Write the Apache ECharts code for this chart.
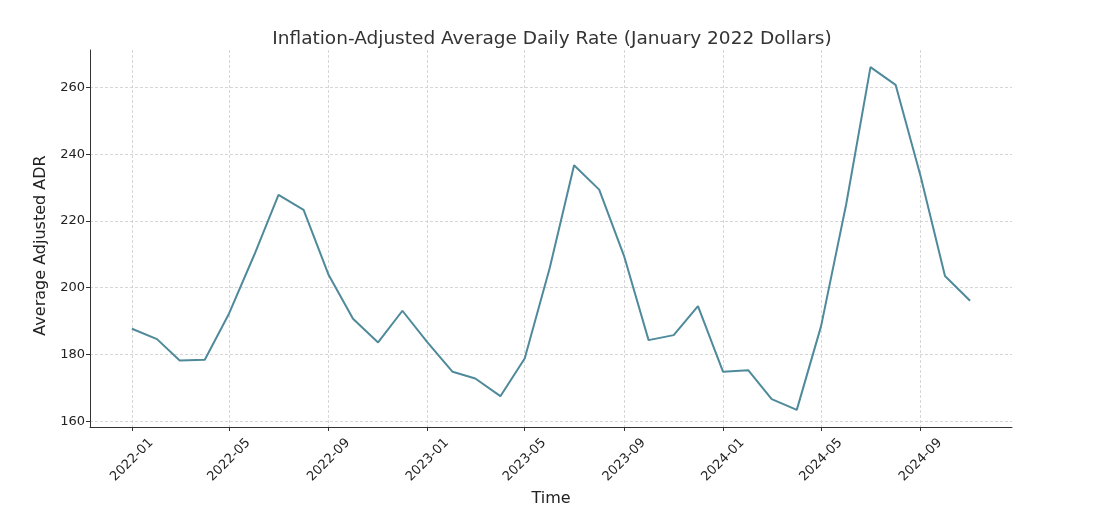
<!DOCTYPE html>
<html>
<head>
<meta charset="utf-8">
<script src="https://cdn.jsdelivr.net/npm/echarts@6/dist/echarts.min.js"></script>
<style>html,body{margin:0;padding:0;background:#fff}#c{width:1120px;height:516px}</style>
</head>
<body>
<div id="c"></div>
<script>
const months = ['2022-01','2022-02','2022-03','2022-04','2022-05','2022-06','2022-07','2022-08','2022-09','2022-10','2022-11','2022-12',
  '2023-01','2023-02','2023-03','2023-04','2023-05','2023-06','2023-07','2023-08','2023-09','2023-10','2023-11','2023-12',
  '2024-01','2024-02','2024-03','2024-04','2024-05','2024-06','2024-07','2024-08','2024-09','2024-10','2024-11'];
const adr = [187.7,184.6,178.2,178.4,192.3,209.8,227.8,223.3,203.8,190.7,183.6,193.1,
  183.6,174.8,172.8,167.5,178.8,206.0,236.7,229.4,209.3,184.3,185.8,194.5,
  174.8,175.3,166.6,163.4,188.5,225.0,266.1,260.8,233.3,203.5,196.1];
const xTickLabels = ['2022-01','2022-05','2022-09','2023-01','2023-05','2023-09','2024-01','2024-05','2024-09'];
const yTicks = [160,180,200,220,240,260];

function ts(s){ const p = s.split('-'); return Date.UTC(+p[0], +p[1]-1, 1) / 86400000; }
const data = months.map((m,i)=>[ts(m), adr[i]]);
const first = ts(months[0]), last = ts(months[months.length-1]);
const xPad = (last-first)*0.05;
const ymin = Math.min(...adr), ymax = Math.max(...adr), yPad = (ymax-ymin)*0.05;
function fmt(v){ const d = new Date(Math.round(v)*86400000); const m = d.getUTCMonth()+1; return d.getUTCFullYear()+'-'+(m<10?'0':'')+m; }

const FONT = 'DejaVu Sans';
const chart = echarts.init(document.getElementById('c'), null, {renderer:'canvas'});
chart.setOption({
  animation:false,
  backgroundColor:'#fff',
  title:{text:'Inflation-Adjusted Average Daily Rate (January 2022 Dollars)', left:547, top:25, textAlign:'center',
    textStyle:{fontFamily:FONT, fontSize:18.5, fontWeight:'normal', color:'#333'}},
  grid:{left:90, right:108, top:50, bottom:89, containLabel:false},
  xAxis:{type:'value', min:first-xPad, max:last+xPad,
    name:'Time', nameLocation:'middle', nameGap:55, nameTextStyle:{fontFamily:FONT, fontSize:16, color:'#222'},
    axisLine:{show:true, onZero:false, lineStyle:{color:'#333', width:1}},
    axisTick:{show:true, length:4, lineStyle:{color:'#333'}, customValues:xTickLabels.map(ts)},
    axisLabel:{customValues:xTickLabels.map(ts), formatter:fmt, rotate:45, align:'center', verticalAlign:'middle',
      fontFamily:FONT, fontSize:13, color:'#222', margin:33, hideOverlap:false},
    splitLine:{show:true, lineStyle:{color:'#cccccc', type:[3,2], width:0.8}}
  },
  yAxis:{type:'value', min:ymin-yPad, max:ymax+yPad,
    name:'Average Adjusted ADR', nameLocation:'middle', nameGap:34, nameTextStyle:{fontFamily:FONT, fontSize:16, color:'#222', padding:[0,14,0,0]},
    axisLine:{show:true, onZero:false, lineStyle:{color:'#333', width:1}},
    axisTick:{show:true, length:4, lineStyle:{color:'#333'}, customValues:yTicks},
    axisLabel:{customValues:yTicks, fontFamily:FONT, fontSize:13, color:'#222', margin:5},
    splitLine:{show:true, lineStyle:{color:'#cccccc', type:[3,2], width:0.8}}
  },
  series:[{type:'line', data:data, showSymbol:false, symbol:'none',
    lineStyle:{color:'#4f8a9b', width:2}, itemStyle:{color:'#4f8a9b'}}]
});
</script>
</body>
</html>
